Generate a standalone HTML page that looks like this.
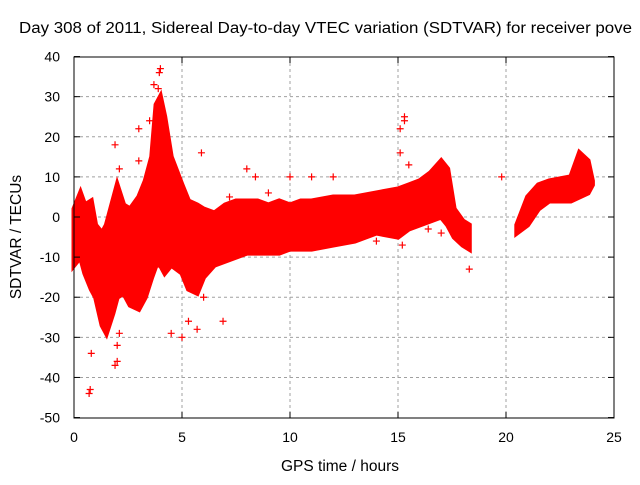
<!DOCTYPE html>
<html><head><meta charset="utf-8"><style>
body{margin:0;background:#fff}
svg text{font-family:"Liberation Sans",sans-serif;font-size:14px;fill:#000}
svg text.big{font-size:15.5px}
</style></head><body>
<svg id="c" width="640" height="480" xmlns="http://www.w3.org/2000/svg">
<rect width="640" height="480" fill="#fff"/>
<text class="big" x="19" y="33" textLength="613" lengthAdjust="spacingAndGlyphs">Day 308 of 2011, Sidereal Day-to-day VTEC variation (SDTVAR) for receiver pove</text>
<g id="grid"></g>
<g id="marks"></g>
<rect x="74" y="57" width="540" height="361" fill="none" stroke="#000"/>
<g id="axes"></g>
<text class="big" x="340" y="471" text-anchor="middle">GPS time / hours</text>
<text class="big" transform="translate(21,237) rotate(-90)" text-anchor="middle">SDTVAR / TECUs</text>
</svg>
<script>
const xTicks=[0,5,10,15,20,25];
const yTicks=[40,30,20,10,0,-10,-20,-30,-40,-50];
const segA_t=[0,0.3,0.5,0.8,1.0,1.3,1.5,1.8,2.0,2.3,2.6,3.0,3.3,3.6,3.8,4.0,4.2,4.5,5.0,5.3,5.7,6.0,6.5,7.0,7.5,8.0,8.5,9.0,9.5,10,10.5,11,12,13,14,15,15.5,16,16.5,17,17.3,17.6,18.0,18.3];
const segA_low=[-12,-10,-14,-18,-20,-27,-29,-24,-20,-19,-22,-23,-20,-15,-12,-12,-14,-12,-14,-18,-19,-15,-12,-11,-10,-9,-9,-9,-9,-8,-8,-8,-7,-6,-4,-5,-3,-2,-1,0,-2,-5,-7,-8];
const segA_high=[2,6,3,4,-2,-4,-2,4,8,3,2,5,9,15,28,30,25,15,8,4,3,2,1,3,4,4,4,3,4,3,4,4,5,5,6,7,8,9,11,14,12,2,-1,-2];
const segB_t=[20.5,21,21.5,22,23,23.4,23.8,24];
const segB_low=[-4,-2,2,4,4,5,6,8];
const segB_high=[-2,5,8,9,10,16,14,9];
const outT=[0.7,0.75,0.8,1.9,2.0,2.0,2.1,1.9,3.0,3.0,4.0,3.95,4.5,5.0,5.3,5.7,6.9,5.9,6.0,8.0,8.4,10.0,11.0,12.0,15.1,15.3,15.3,15.1,15.5,15.2,18.3,19.8,3.7,3.9,3.5,4.1,2.1,1.6,6.2,7.2,9.0,13.0,14.0,16.4,17.0];
const outV=[-44,-43,-34,-37,-36,-32,-29,18,22,14,37,36,-29,-30,-26,-28,-26,16,-20,12,10,10,10,10,22,24,25,16,13,-7,-13,10,33,32,24,20,12,-16,-10,5,6,-5,-6,-3,-4];
const X=t=>74+t*21.6, Y=v=>217-v*4.011;
const ns="http://www.w3.org/2000/svg";
const grid=document.getElementById('grid'),axes=document.getElementById('axes'),marks=document.getElementById('marks');
function mk(tag,at,parent){const e=document.createElementNS(ns,tag);for(const k in at)e.setAttribute(k,at[k]);parent.appendChild(e);return e;}
xTicks.forEach(t=>{
 const x=X(t);
 if(t>0&&t<25){const l=mk('line',{x1:x,x2:x,y1:57,y2:418,stroke:'#a0a0a0','stroke-dasharray':'3,3'},grid);
 
 }
 mk('line',{x1:x,x2:x,y1:418,y2:412,stroke:'#000'},axes);
 mk('line',{x1:x,x2:x,y1:57,y2:63,stroke:'#000'},axes);
 const tx=mk('text',{x:x,y:442,'text-anchor':'middle'},axes);tx.textContent=t;
 
 
});
yTicks.forEach(v=>{
 const y=Y(v);
 if(v<40&&v>-50){const l=mk('line',{x1:74,x2:614,y1:y,y2:y,stroke:'#a0a0a0','stroke-dasharray':'3,3'},grid);
 
 }
 mk('line',{x1:74,x2:80,y1:y,y2:y,stroke:'#000'},axes);
 mk('line',{x1:614,x2:608,y1:y,y2:y,stroke:'#000'},axes);
 const tx=mk('text',{x:60,y:y+5,'text-anchor':'end'},axes);tx.textContent=v;
 
 
});
function band(ts,lo,hi,name){
 let pts=ts.map((t,i)=>X(t)+','+Y(hi[i]));
 for(let i=ts.length-1;i>=0;i--)pts.push(X(ts[i])+','+Y(lo[i]));
 const p=mk('polygon',{points:pts.join(' '),fill:'#ff0000',stroke:'#ff0000','stroke-width':5,'stroke-linejoin':'miter'},marks);
 
 
}
band(segA_t,segA_low,segA_high,'sdtvar-band-0-18h');
band(segB_t,segB_low,segB_high,'sdtvar-band-20-24h');
outT.forEach((t,i)=>{
 const x=X(t),y=Y(outV[i]);
 const p=mk('path',{d:`M${x-3.5},${y}H${x+3.5}M${x},${y-3.5}V${y+3.5}`,stroke:'#ff0000','stroke-width':1.2},marks);
 
 
});
</script>
</body></html>
